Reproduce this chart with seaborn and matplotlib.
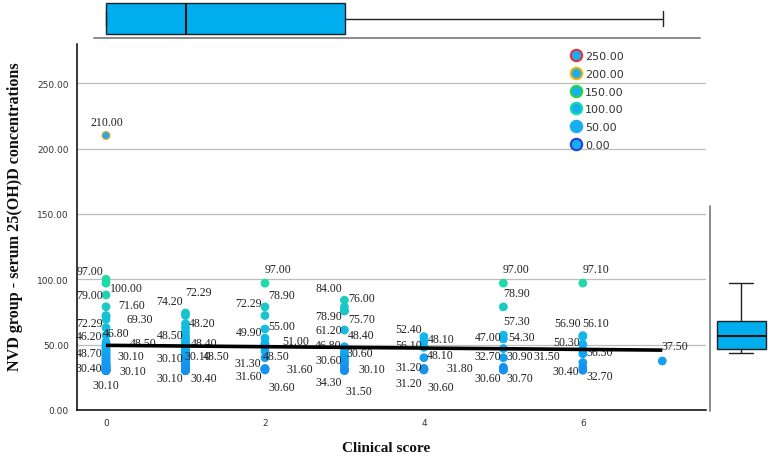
import numpy as np
import pandas as pd
import matplotlib
matplotlib.use("Agg")
import matplotlib.pyplot as plt
import seaborn as sns
from matplotlib.colors import LinearSegmentedColormap, Normalize
from matplotlib.lines import Line2D

# ---------------- data ----------------
score0 = [210.00, 100.00, 97.00, 88.00, 79.00, 72.29, 71.60, 69.30, 63.00, 57.00,
          52.00, 50.00, 48.70, 48.50, 46.80, 46.20, 45.00, 44.00, 43.00, 42.00,
          41.00, 40.00, 39.00, 38.00, 37.00, 36.00, 35.00, 34.00, 33.00, 32.00,
          31.00, 30.40, 30.10, 30.10, 30.10, 30.50, 31.50, 32.50, 33.50, 34.50]
score1 = [74.20, 72.29, 66.00, 63.00, 60.00, 57.00, 55.00, 53.00, 51.00, 50.00,
          48.50, 48.50, 48.40, 48.20, 47.00, 46.00, 45.00, 44.00, 43.00, 42.00,
          41.00, 40.00, 39.00, 38.00, 37.00, 36.00, 35.00, 34.00, 33.00, 32.00,
          30.40, 30.10, 30.10, 30.10]
score2 = [97.00, 78.90, 72.29, 62.00, 55.00, 51.00, 49.90, 48.50, 45.00, 40.00,
          31.60, 31.60, 31.30, 30.60]
score3 = [84.00, 78.90, 76.00, 75.70, 61.20, 48.40, 46.80, 44.00, 42.00, 40.00,
          38.00, 36.00, 34.30, 31.50, 30.60, 30.60, 30.10]
score4 = [56.10, 52.40, 48.10, 48.10, 40.00, 31.80, 31.20, 31.20, 30.60]
score5 = [97.00, 78.90, 57.30, 54.30, 47.00, 40.00, 32.70, 31.50, 30.90, 30.70, 30.60]
score6 = [97.10, 56.90, 56.10, 50.30, 46.00, 43.00, 36.30, 32.70, 30.40]
score7 = [37.50]
groups = [score0, score1, score2, score3, score4, score5, score6, score7]

# labelled points: score, value, and text offset (pixels) of each label
lab_score = [0]*15 + [1]*10 + [2]*11 + [3]*12 + [4]*8 + [5]*10 + [6]*7 + [7]
lab_value = [210.00, 97.00, 100.00, 79.00, 71.60, 69.30, 72.29, 46.80, 46.20, 48.50, 48.70, 30.10, 30.40, 30.10, 30.10,
             74.20, 72.29, 48.20, 48.50, 48.40, 30.10, 30.10, 48.50, 30.10, 30.40,
             97.00, 78.90, 72.29, 55.00, 49.90, 51.00, 48.50, 31.30, 31.60, 31.60, 30.60,
             84.00, 76.00, 78.90, 75.70, 61.20, 48.40, 46.80, 30.60, 30.60, 30.10, 34.30, 31.50,
             52.40, 48.10, 56.10, 48.10, 31.20, 31.80, 31.20, 30.60,
             97.00, 78.90, 57.30, 47.00, 54.30, 32.70, 30.90, 31.50, 30.60, 30.70,
             97.10, 56.90, 56.10, 50.30, 36.30, 30.40, 32.70,
             37.50]
lab_dx = [1, -16.5, 20, -16.5, 25.5, 34, -16.5, 10.5, -16.5, 37.5, -16.5, 24.5, -17.5, 26.5, 0,
          -15.5, 13, 17, -15.5, 18.5, -16, 12.5, 31, -16, 18.5,
          13.5, 16.5, -16, 17, -16, 31, 11, -17.5, 35, -16, 16.5,
          -16, 17, -16, 17, -16, 17, -16, 15, -16, 27, -16, 14,
          -15, 17.5, -15, 16.5, -15.5, 36, -15.5, 16.5,
          13, 13, 13.5, -15.5, 18.5, -15.5, 16.5, 43, -15.5, 16.5,
          13, -15.5, 13, -16, 17, -17, 17,
          13]
lab_dy = [14, 12, -9, 11.7, 11.3, 0.4, -7.6, 15.8, 13.6, 3.6, -6.7, 14.6, 2.2, -0.4, -14.4,
          12, 23.4, 24, 11.6, 3.7, 12.6, 14.6, -9.4, -7.4, -7.8,
          14.1, 11.8, 12.4, 12.1, 12.7, 2.3, -9.4, 6.1, -0.3, -7.3, -17,
          12.1, 12.6, -9.2, -8, 0, 11.7, 3.8, 17, 10, 1.6, -16.9, -22.2,
          12.5, 8.1, -8.4, -7.9, 2.2, 0.4, -13.8, -17,
          14.1, 13.8, 14.1, 11.5, 2, 11.2, 13.6, 12.8, -8, -8.2,
          14, 12.6, 13.6, 2.2, 10.5, -0.8, -8.8,
          15]

legend_values = [250.00, 200.00, 150.00, 100.00, 50.00, 0.00]
legend_edges = ["#E2343E", "#EDB200", "#22D83C", "#10DFA6", "#19AEEF", "#2340D6"]

x_ticks = [0, 2, 4, 6]
y_ticks = [0, 50, 100, 150, 200, 250]

# ---------------- dataframe ----------------
df = pd.DataFrame({
    "score": np.concatenate([[i] * len(g) for i, g in enumerate(groups)]),
    "value": np.concatenate(groups),
})

# ---------------- style ----------------
sns.set_theme(style="white")
plt.rcParams["font.family"] = ["DejaVu Sans"]

W, H = 775, 460
fig = plt.figure(figsize=(W / 100, H / 100), dpi=100)

def px_axes(l, t, r, b):
    return fig.add_axes([l / W, 1 - b / H, (r - l) / W, (b - t) / H])

ax = px_axes(77, 45, 706, 411)
ax_top = px_axes(94, 0, 700, 39)
ax_r = px_axes(710, 207, 775, 412)

fill_main = "#19AEEF"
fill_cmap = LinearSegmentedColormap.from_list(
    "fill", [(0.0, "#1A62EE"), (0.2, "#10B2F0"), (0.4, "#1FDBA4"),
             (0.4001, fill_main), (1.0, fill_main)])
edge_cmap = LinearSegmentedColormap.from_list(
    "edge", [(0.0, "#1A62EE"), (0.2, "#10B2F0"), (0.4, "#1FDBA4"),
             (0.6, "#22D83C"), (0.8, "#EDB200"), (1.0, "#E2343E")])
norm = Normalize(0, 250)

# gridlines
for yv in y_ticks[1:]:
    ax.axhline(yv, color="#BDBDBD", lw=0.9, zorder=0)

sns.scatterplot(data=df, x="score", y="value", hue="value", palette=fill_cmap,
                hue_norm=(0, 250), s=30, legend=False, ax=ax, zorder=3,
                linewidth=0.8)
coll = ax.collections[-1]
coll.set_edgecolors([edge_cmap(norm(v)) for v in df["value"]])

sns.regplot(data=df, x="score", y="value", scatter=False, ci=None, truncate=True,
            color="black", line_kws={"lw": 2.6, "zorder": 6, "solid_capstyle": "butt"}, ax=ax)

for s, v, dx, dy in zip(lab_score, lab_value, lab_dx, lab_dy):
    ax.annotate(f"{v:.2f}", xy=(s, v), xytext=(dx, dy), textcoords="offset pixels",
                ha="center", va="center", fontsize=8.6, color="#222222",
                family="Liberation Serif", zorder=4)

ax.set_xlim(-0.365, 7.55)
ax.set_ylim(0, 280)
ax.set_xticks(x_ticks)
ax.set_xticklabels([str(t) for t in x_ticks])
ax.set_yticks(y_ticks)
ax.set_yticklabels([f"{t:.2f}" for t in y_ticks])
ax.tick_params(axis="both", length=0, labelsize=6.5, colors="#333333")
ax.tick_params(axis="y", pad=6)
ax.tick_params(axis="x", pad=6)
for side in ["top", "right"]:
    ax.spines[side].set_visible(False)
for side in ["left", "bottom"]:
    ax.spines[side].set_color("black")
    ax.spines[side].set_linewidth(1.1)
ax.set_xlabel("Clinical score", fontsize=11, fontweight="bold",
              family="Liberation Serif", color="#111111")
ax.set_ylabel("NVD group - serum 25(OH)D concentrations", fontsize=11.6,
              fontweight="bold", family="Liberation Serif", color="#111111")
ax.xaxis.set_label_coords((386 - 77) / 629, (411 - 449) / 366)
ax.yaxis.set_label_coords((15 - 77) / 629, (411 - 217) / 366)
ax.xaxis.label.set_va("center")
ax.yaxis.label.set_va("center")

handles = [Line2D([], [], marker="o", ls="", markersize=8.2, markerfacecolor=fill_main,
                  markeredgecolor=e, markeredgewidth=1.5) for e in legend_edges]
leg = ax.legend(handles, [f"{v:.2f}" for v in legend_values], loc="upper left",
                bbox_to_anchor=(0.784, 0.981), frameon=False, borderpad=0,
                borderaxespad=0, handlelength=1.0, handletextpad=0.35,
                labelspacing=0.70, prop={"size": 8})
for t in leg.get_texts():
    t.set_color("#333333")

# top marginal boxplot (clinical score)
sns.boxplot(x=df["score"], ax=ax_top, orient="h", color="#00AEEF", saturation=1,
            width=0.8, showfliers=False, linecolor="#222222", linewidth=1.0,
            medianprops={"color": "#111111", "linewidth": 1.5})
ax_top.set_xlim((94 - 106) / 79.5, (700 - 106) / 79.5)
ax_top.set_ylim(0.5, -0.5)
ax_top.axis("off")
ax_top.axhline(0.5, color="#777777", lw=1.2, clip_on=False)

# right marginal boxplot (concentration)
sns.boxplot(y=df["value"], ax=ax_r, color="#00AEEF", saturation=1, width=0.98,
            showfliers=False, linecolor="#222222", linewidth=1.0,
            medianprops={"color": "#111111", "linewidth": 1.5})
ax_r.set_xlim(-0.62, 0.68)
ax_r.set_ylim(-14.7, 143.6)
ax_r.axis("off")
ax_r.axvline(-0.62, color="#777777", lw=1.2, clip_on=False)

fig.savefig("out.png", dpi=100)
